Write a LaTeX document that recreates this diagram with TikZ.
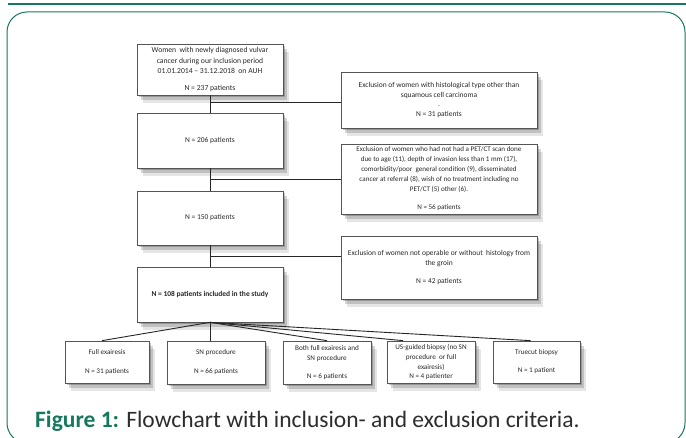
\documentclass[tikz,border=0pt]{standalone}
\usepackage{fontspec}
\setmainfont{Carlito}
\usetikzlibrary{shadows}
\definecolor{teal1}{RGB}{22,120,92}
\definecolor{boxline}{RGB}{85,85,85}
\definecolor{txt}{RGB}{40,40,40}
\definecolor{capgray}{RGB}{45,45,45}
\begin{document}
\begin{tikzpicture}[x=1bp,y=-1bp,
  shadowed/.style={
    drop shadow={shadow xshift=2bp,shadow yshift=-2bp,opacity=.22,fill=black},
    drop shadow={shadow xshift=4bp,shadow yshift=-5bp,opacity=.16,fill=black},
    drop shadow={shadow xshift=6bp,shadow yshift=-8bp,opacity=.10,fill=black}},
  box/.style={shadowed,draw=boxline,line width=0.7bp,fill=white,align=center,
    inner sep=0pt,text=txt,font=\fontsize{7.5}{10}\selectfont},
  conn/.style={draw=black!85,line width=0.9bp}]
\useasboundingbox (0,0) rectangle (686,438);
\begin{scope}
\clip (0,0) rectangle (686,438);
% frame
\draw[teal1,line width=2.5bp] (8,4) -- (686,4);
\draw[teal1,line width=1bp,rounded corners=20bp] (7,12) rectangle (685,443);

% main column
\node[box,minimum width=146bp,minimum height=51bp,font=\fontsize{7.7}{10.7}\selectfont] (n237) at (210,69.5)
  {Women\ \ with newly diagnosed vulvar\\cancer during our inclusion period\\01.01.2014 -- 31.12.2018\ \ on AUH\\[6bp]N = 237 patients};
\node[box,minimum width=146bp,minimum height=55bp] (n206) at (210,140.5) {N = 206 patients};
\node[box,minimum width=146bp,minimum height=54bp] (n150) at (210,218) {N = 150 patients};
\node[box,minimum width=146bp,minimum height=55bp] (n108) at (210,294.5) {\bfseries N = 108 patients included in the study};

% exclusion boxes
\node[box,minimum width=196bp,minimum height=56bp] (ex1) at (439,100)
  {Exclusion of women with histological type other than\\squamous cell carcinoma\\.\\N = 31 patients};
\node[box,minimum width=196bp,minimum height=70bp,font=\fontsize{7.1}{10}\selectfont] (ex2) at (439,179)
  {Exclusion of women who had not had a PET/CT scan done\\due to age (11), depth of invasion less than 1 mm (17),\\comorbidity/poor\ \ general condition (9), disseminated\\cancer at referral (8), wish of no treatment including no\\PET/CT (5) other (6).\\[8bp]N = 56 patients};
\node[box,minimum width=196bp,minimum height=63bp] (ex3) at (439,267.5)
  {Exclusion of women not operable or without\ \ histology from\\the groin\\[8bp]N = 42 patients};

% bottom boxes
\node[box,minimum width=84bp,minimum height=42bp,font=\fontsize{7.2}{10}\selectfont] (b1) at (107,362) {Full exairesis\\[9bp]N = 31 patients};
\node[box,minimum width=98bp,minimum height=43bp,font=\fontsize{7.2}{10}\selectfont] (b2) at (216,362.5) {SN procedure\\[9bp]N = 66 patients};
\node[box,minimum width=88bp,minimum height=43bp,font=\fontsize{7.2}{10}\selectfont] (b3) at (327,362.5) {Both full exairesis and\\SN procedure\\[8bp]N = 6 patients};
\node[box,minimum width=88bp,minimum height=42bp,font=\fontsize{7.2}{10}\selectfont] (b4) at (431,362) {US-guided biopsy (no SN\\procedure\ \ or full\\exairesis)\\N = 4 patienter};
\node[box,minimum width=87bp,minimum height=42bp,font=\fontsize{7.2}{10}\selectfont] (b5) at (536.5,362) {Truecut biopsy\\[8bp]N = 1 patient};

% connectors
\coordinate (j1) at (210,102);
\coordinate (j2) at (210,179);
\coordinate (j3) at (210,256);
\draw[conn] (n237.south) -- (n206.north);
\draw[conn] (n206.south) -- (n150.north);
\draw[conn] (n150.south) -- (n108.north);
\draw[conn] (j1) -- (j1 -| ex1.west);
\draw[conn] (j2) -- (j2 -| ex2.west);
\draw[conn] (j3) -- (j3 -| ex3.west);
\draw[conn] (n108.south) -- ([xshift=-5bp]b1.north);
\draw[conn] (n108.south) -- (n108.south |- b2.north);
\draw[conn] (n108.south) -- (b3.north);
\draw[conn] (n108.south) -- ([xshift=-28bp]b4.north);
\draw[conn] (n108.south) -- ([xshift=-6bp]b5.north);

% caption
\node[anchor=base west,inner sep=0pt,text=capgray,font=\fontsize{23.6}{27}\selectfont] (cap) at (35,427)
  {\textcolor{teal1}{\bfseries Figure 1:} Flowchart with inclusion- and exclusion criteria.};
\end{scope}
\end{tikzpicture}
\end{document}
